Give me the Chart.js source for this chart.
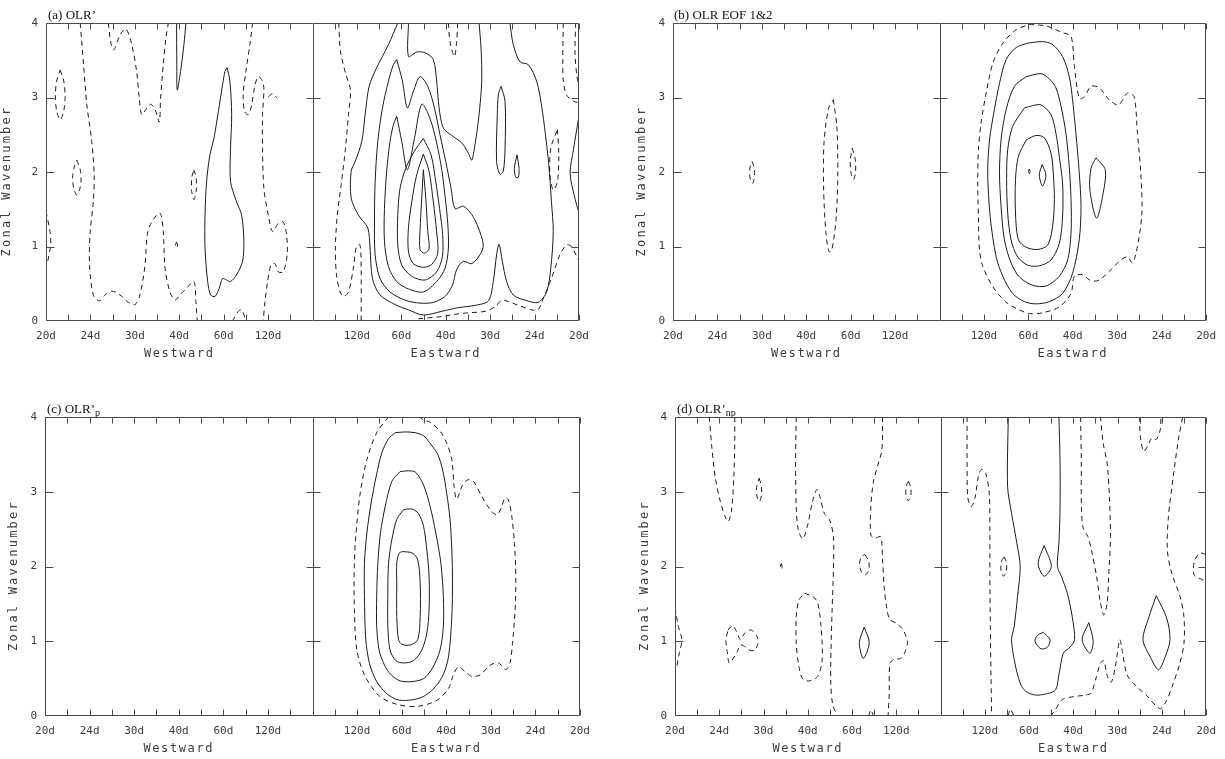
<!DOCTYPE html>
<html>
<head>
<meta charset="utf-8">
<script src="https://cdn.jsdelivr.net/npm/chart.js@4.4.1/dist/chart.umd.min.js"></script>
<style>
  body { margin: 0; background: #fff; }
  #page { position: relative; width: 1225px; height: 759px; overflow: hidden; background: #fff; }
  .panel { position: absolute; }
  .ttl { position: absolute; font-family: "Liberation Serif", "Times New Roman", serif; font-size: 13px; line-height: 13px; color: #111; white-space: nowrap; }
  .ttl sub { font-size: 10px; vertical-align: -3px; line-height: 0; }
</style>
</head>
<body>
<div id="page">
  <div class="panel" style="left:0px;top:0px"><canvas id="ca" width="612" height="380"></canvas></div>
  <div class="panel" style="left:612px;top:0px"><canvas id="cb" width="613" height="380"></canvas></div>
  <div class="panel" style="left:0px;top:380px"><canvas id="cc" width="612" height="379"></canvas></div>
  <div class="panel" style="left:612px;top:380px"><canvas id="cd" width="613" height="379"></canvas></div>
  <div class="ttl" style="left:48px;top:8px">(a) OLR’</div>
  <div class="ttl" style="left:674px;top:8px">(b) OLR EOF 1&amp;2</div>
  <div class="ttl" style="left:47px;top:402px">(c) OLR’<sub>p</sub></div>
  <div class="ttl" style="left:677px;top:402px">(d) OLR’<sub>np</sub></div>
</div>
<script>
'use strict'

// x = frequency in units of 1/240 cycles per day (negative = westward), y = zonal wavenumber
const freqTicks = [-12, -10, -8, -6, -4, -2, 0, 2, 4, 6, 8, 10, 12]
const periodLabels = ['20d', '24d', '30d', '40d', '60d', '120d', '', '120d', '60d', '40d', '30d', '24d', '20d']
const waveTicks = [0, 1, 2, 3, 4]

// ---- (a) OLR' : contours as u,k pairs ----
const aDash1 = [-11.36,3.37, -11.2,3.22, -11.14,3.02, -11.2,2.82, -11.36,2.70, -11.52,2.82, -11.58,3.02, -11.52,3.22]
const aDash2 = [-10.61,2.16, -10.46,2.03, -10.42,1.92, -10.47,1.78, -10.61,1.69, -10.75,1.78, -10.8,1.92, -10.75,2.05]
const aDash3 = [-12,1.47, -11.82,1.2, -11.79,1.02, -11.94,0.77]
const aDash4 = [-10.46,4.0, -10.31,3.44, -10.16,2.90, -9.94,2.41, -9.83,1.96, -9.87,1.60, -10.01,1.20, -10.04,0.75, -9.87,0.35, -9.60,0.27, -9.34,0.35, -9.04,0.40, -8.67,0.35, -8.29,0.25, -7.99,0.22, -7.77,0.35, -7.54,0.75, -7.44,1.16, -7.24,1.33, -6.87,1.45, -6.72,1.20, -6.64,0.71, -6.42,0.39, -6.19,0.28, -5.97,0.35, -5.67,0.44, -5.34,0.53, -5.25,0.26, -5.19,0.0]
const aDash5 = [-9.19,4.0, -9.09,3.75, -8.94,3.64, -8.67,3.84, -8.40,3.92, -8.14,3.71, -7.92,3.35, -7.80,2.99, -7.69,2.77, -7.50,2.84, -7.29,2.91, -7.09,2.84, -6.90,2.67, -6.84,2.99, -6.72,3.44, -6.60,3.80, -6.49,4.0]
const aSol1 = [-6.12,4.0, -6.11,3.44, -6.09,3.10, -5.94,3.35, -5.79,3.71, -5.70,4.0]
const aDash6 = [-6.12,1.06, -6.07,1.02, -6.12,0.98, -6.17,1.02]
const aDash7 = [-5.34,2.03, -5.24,1.92, -5.24,1.74, -5.34,1.63, -5.44,1.74, -5.44,1.92]
const aSol2 = [-3.84,3.40, -3.72,3.22, -3.64,2.77, -3.69,2.32, -3.69,1.87, -3.42,1.60, -3.19,1.42, -3.09,1.07, -3.15,0.80, -3.42,0.62, -3.69,0.53, -3.87,0.55, -4.05,0.57, -4.20,0.44, -4.39,0.33, -4.59,0.35, -4.72,0.53, -4.84,0.98, -4.84,1.42, -4.77,1.87, -4.62,2.23, -4.44,2.45, -4.24,2.81, -4.05,3.17, -3.94,3.35]
const aDash8 = [-2.70,4.0, -2.82,3.71, -3.0,3.35, -3.12,3.04, -3.06,2.81, -2.89,2.77, -2.74,2.90, -2.59,3.17, -2.44,3.28, -2.29,3.24, -2.19,3.13, -2.25,2.77, -2.25,2.32, -2.19,1.78, -1.99,1.42, -1.80,1.20, -1.54,1.31, -1.32,1.33, -1.17,1.16, -1.14,0.89, -1.32,0.66, -1.54,0.66, -1.69,0.77, -1.87,0.75, -2.02,0.53, -2.14,0.26, -2.22,0.0]
const aDash9 = [-1.99,3.01, -1.80,3.05, -1.59,2.99]
const aDash10 = [-3.6,0.0, -3.34,0.13, -3.19,0.15, -3.04,0.04]
const aDash11 = [1.18,4.0, 1.26,3.62, 1.50,3.31, 1.71,3.10, 1.62,2.77, 1.48,2.30, 1.29,1.83, 1.11,1.40, 1.03,0.98, 1.08,0.62, 1.24,0.39, 1.41,0.33, 1.62,0.39, 1.84,0.71, 1.98,1.0, 2.14,1.02, 2.19,0.71, 2.19,0.0]
const aSol3 = [3.84,4.00, 3.42,3.71, 2.89,3.40, 2.55,3.15, 2.37,2.77, 2.22,2.41, 1.92,2.14, 1.74,2.01, 1.74,1.65, 2.07,1.42, 2.49,1.25, 2.59,0.98, 2.70,0.57, 3.04,0.35, 3.72,0.22, 4.32,0.15, 4.99,0.08, 5.82,0.13, 6.57,0.18, 7.32,0.21, 7.92,0.27, 8.14,0.53, 8.29,0.89, 8.40,1.03, 8.55,0.80, 8.74,0.53, 9.04,0.35, 9.57,0.28, 10.16,0.25, 10.54,0.39, 10.73,0.71, 10.84,1.20, 10.76,1.60, 10.64,2.10, 10.49,2.50, 10.31,2.90, 10.09,3.22, 9.72,3.44, 9.34,3.48, 9.04,3.71, 8.89,4.00]
const aSol4 = [4.32,4.0, 4.32,3.55, 4.69,3.61, 5.07,3.60, 5.44,3.51, 5.59,3.22, 5.70,2.86, 5.89,2.59, 6.27,2.49, 6.72,2.39, 7.02,2.25, 7.17,2.16, 7.32,2.37, 7.50,2.77, 7.62,3.22, 7.59,3.66, 7.50,4.0]
const aSol5 = [3.79,3.51, 4.05,3.22, 4.27,2.86, 4.54,3.08, 4.84,3.28, 5.19,3.15, 5.49,2.86, 5.74,2.50, 6.0,2.14, 6.24,1.78, 6.42,1.51, 6.79,1.54, 7.17,1.43, 7.47,1.25, 7.69,1.02, 7.54,0.89, 7.17,0.77, 6.79,0.80, 6.49,0.69, 6.30,0.48, 5.97,0.33, 5.44,0.25, 4.84,0.24, 4.17,0.28, 3.49,0.39, 3.04,0.57, 2.82,0.89, 2.79,1.33, 2.82,1.87, 2.94,2.41, 3.15,2.86, 3.42,3.22, 3.64,3.44]
const aSol6 = [3.79,2.75, 4.02,2.41, 4.27,2.03, 4.59,2.45, 4.92,2.91, 5.29,2.72, 5.59,2.39, 5.82,2.03, 5.97,1.67, 6.09,1.31, 6.12,0.98, 5.97,0.71, 5.59,0.53, 4.99,0.39, 4.32,0.43, 3.79,0.53, 3.42,0.73, 3.24,1.07, 3.24,1.51, 3.34,2.01, 3.49,2.41, 3.64,2.63]
const aSol7 = [4.99,2.45, 5.34,2.23, 5.55,1.87, 5.72,1.51, 5.86,1.16, 5.85,0.86, 5.59,0.66, 5.07,0.55, 4.47,0.60, 4.02,0.75, 3.84,1.02, 3.84,1.42, 3.94,1.78, 4.20,2.05, 4.59,2.28]
const aSol8 = [4.99,2.24, 5.25,2.01, 5.44,1.60, 5.59,1.20, 5.64,0.91, 5.37,0.76, 4.99,0.72, 4.54,0.77, 4.32,0.93, 4.32,1.25, 4.47,1.60, 4.69,1.96]
const aSol9 = [4.99,2.03, 5.10,1.65, 5.19,1.20, 5.25,0.97, 5.04,0.91, 4.84,0.96, 4.84,1.20, 4.92,1.65]
const aSol10 = [8.49,3.15, 8.67,2.95, 8.67,2.32, 8.59,2.01, 8.44,1.97, 8.29,2.14, 8.32,2.77, 8.37,3.04]
const aSol11 = [9.21,2.23, 9.30,2.05, 9.27,1.93, 9.15,1.93, 9.09,2.05]
const aSol12 = [12.0,2.75, 11.75,2.30, 11.60,1.98, 11.83,1.63, 12.0,1.45]
const aDash12 = [6.12,4.0, 6.19,3.75, 6.39,3.55, 6.49,3.75, 6.54,4.0]
const aDash13 = [11.29,4.0, 11.27,3.5, 11.3,3.2, 11.45,3.03, 11.75,2.95, 12.0,2.93]
const aDash14 = [11.85,4.0, 11.82,3.6, 11.9,3.3, 12.0,3.15]
const aDash15 = [11.03,2.57, 11.09,2.23, 11.03,1.87, 10.84,1.76, 10.69,1.96, 10.73,2.32]
const aDash16 = [4.77,0.03, 5.82,0.06, 6.42,0.09, 7.02,0.11, 7.77,0.13, 8.22,0.19, 8.52,0.28, 8.82,0.26, 9.27,0.21, 9.87,0.15, 10.16,0.15, 10.39,0.30, 10.76,0.57, 11.14,0.89, 11.44,1.02, 11.66,1.0, 12.0,0.80]

// ---- (b) OLR EOF 1&2 ----
const bDash1 = [-8.44,2.14, -8.34,2.06, -8.33,1.96, -8.40,1.85, -8.50,1.88, -8.55,1.98, -8.52,2.08]
const bDash2 = [-4.78,2.97, -4.62,2.6, -4.58,2.0, -4.65,1.4, -4.85,0.95, -4.98,0.93, -5.12,1.2, -5.22,1.8, -5.2,2.4, -5.0,2.85]
const bDash3 = [-3.93,2.32, -3.8,2.18, -3.78,2.0, -3.87,1.90, -3.98,1.98, -4.02,2.15]
const bDash4 = [4.04,3.98, 4.80,3.96, 5.54,3.87, 5.92,3.82, 6.07,3.42, 6.29,2.99, 6.52,3.01, 6.82,3.15, 7.19,3.13, 7.64,2.97, 8.06,2.90, 8.46,3.06, 8.76,3.01, 8.91,2.52, 9.06,1.99, 9.11,1.45, 8.91,1.0, 8.69,0.78, 8.46,0.86, 8.16,0.82, 7.79,0.71, 7.19,0.55, 6.82,0.54, 6.44,0.62, 6.07,0.60, 5.92,0.37, 5.39,0.19, 4.64,0.11, 4.04,0.10, 3.45,0.17, 2.97,0.26, 2.40,0.46, 1.95,0.73, 1.80,0.95, 1.75,1.40, 1.72,1.85, 1.75,2.30, 1.87,2.66, 2.10,3.06, 2.40,3.46, 2.85,3.73, 3.45,3.91]
const bSol1 = [3.97,3.73, 4.64,3.75, 5.09,3.71, 5.54,3.55, 5.84,3.28, 5.99,2.97, 6.14,2.52, 6.29,1.99, 6.37,1.54, 6.29,1.09, 5.99,0.64, 5.54,0.37, 4.94,0.26, 4.34,0.23, 3.82,0.26, 3.29,0.37, 2.85,0.60, 2.55,0.86, 2.28,1.40, 2.17,1.99, 2.25,2.43, 2.47,2.84, 2.70,3.19, 3.00,3.51, 3.45,3.67]
const bSol2 = [3.90,3.28, 4.57,3.32, 4.94,3.25, 5.24,3.13, 5.47,2.88, 5.69,2.52, 5.84,2.07, 5.92,1.63, 5.92,1.18, 5.77,0.82, 5.39,0.60, 4.80,0.47, 4.19,0.48, 3.60,0.59, 3.22,0.78, 2.92,1.09, 2.77,1.54, 2.70,1.99, 2.77,2.43, 3.00,2.84, 3.37,3.15]
const bSol3 = [3.82,2.86, 4.19,2.89, 4.57,2.90, 5.02,2.77, 5.24,2.52, 5.39,2.21, 5.54,1.85, 5.54,1.40, 5.39,1.04, 5.02,0.82, 4.49,0.74, 3.97,0.75, 3.52,0.86, 3.22,1.09, 3.07,1.45, 3.02,1.90, 3.07,2.30, 3.29,2.61]
const bSol4 = [3.90,2.43, 4.34,2.49, 4.72,2.46, 5.02,2.25, 5.12,1.99, 5.17,1.63, 5.09,1.27, 4.87,1.02, 4.42,0.96, 3.90,0.99, 3.55,1.09, 3.42,1.45, 3.42,1.90, 3.55,2.21]
const bSol5 = [4.62,2.10, 4.79,1.96, 4.64,1.81, 4.49,1.96]
const bSol6 = [4.04,2.04, 4.08,2.01, 4.04,1.98, 4.0,2.01]
const bSol7 = [7.04,2.19, 7.46,2.03, 7.37,1.72, 7.07,1.38, 6.77,1.76, 6.82,2.05]

// ---- (c) OLR'p ----
const cDash1 = [3.41,4.0, 2.88,3.79, 2.44,3.43, 2.14,2.98, 1.94,2.40, 1.87,1.96, 1.88,1.42, 1.99,0.88, 2.36,0.53, 3.03,0.26, 3.86,0.15, 4.75,0.13, 5.58,0.21, 6.10,0.37, 6.32,0.55, 6.55,0.66, 6.85,0.59, 7.14,0.53, 7.52,0.55, 7.97,0.68, 8.34,0.71, 8.67,0.62, 8.86,0.71, 8.97,0.97, 9.09,1.42, 9.12,1.87, 9.06,2.31, 8.94,2.67, 8.79,2.89, 8.64,2.92, 8.46,2.78, 8.27,2.69, 7.97,2.76, 7.59,2.94, 7.22,3.14, 6.97,3.16, 6.73,3.09, 6.47,2.90, 6.35,3.07, 6.25,3.43, 6.02,3.65, 5.72,3.81, 5.28,3.93, 4.98,3.96, 4.8,4.0]
const cSol1 = [3.71,3.79, 4.16,3.80, 4.60,3.79, 4.98,3.75, 5.32,3.63, 5.62,3.50, 5.84,3.29, 6.02,2.98, 6.17,2.63, 6.25,2.22, 6.28,1.78, 6.25,1.33, 6.10,0.79, 5.83,0.53, 5.38,0.35, 4.90,0.25, 4.30,0.21, 3.78,0.22, 3.29,0.31, 2.86,0.47, 2.56,0.70, 2.39,1.02, 2.33,1.60, 2.33,2.04, 2.44,2.45, 2.63,2.85, 2.86,3.21, 3.11,3.52, 3.41,3.71]
const cSol2 = [3.93,3.27, 4.30,3.28, 4.63,3.26, 4.98,3.09, 5.28,2.80, 5.53,2.45, 5.76,2.04, 5.87,1.60, 5.87,1.20, 5.72,0.88, 5.38,0.64, 4.98,0.50, 4.45,0.46, 3.93,0.47, 3.53,0.55, 3.23,0.68, 2.99,0.88, 2.88,1.20, 2.88,1.60, 2.93,2.04, 3.05,2.45, 3.26,2.80, 3.56,3.14]
const cSol3 = [4.08,2.76, 4.45,2.77, 4.75,2.71, 4.98,2.54, 5.13,2.22, 5.23,1.87, 5.23,1.42, 5.13,1.11, 4.90,0.88, 4.53,0.74, 4.08,0.71, 3.74,0.74, 3.48,0.88, 3.38,1.20, 3.38,1.64, 3.41,2.04, 3.56,2.36, 3.78,2.63]
const cSol4 = [4.04,2.20, 4.48,2.18, 4.72,2.09, 4.83,1.78, 4.83,1.33, 4.72,1.02, 4.38,0.95, 4.01,0.96, 3.86,1.02, 3.78,1.33, 3.78,1.78, 3.78,2.05, 3.89,2.18]

// ---- (d) OLR'np ----
const dDash1 = [-10.45,4.0, -10.34,3.61, -10.19,3.21, -9.97,2.89, -9.75,2.68, -9.60,2.60, -9.45,2.74, -9.34,3.21, -9.30,3.65, -9.30,4.0]
const dDash2 = [-8.20,3.18, -8.10,3.08, -8.09,2.96, -8.18,2.87, -8.29,2.93, -8.31,3.06]
const dDash3 = [-12,1.45, -11.85,1.2, -11.69,1.02, -11.8,0.85, -11.92,0.66]
const dDash4 = [-9.60,1.15, -9.40,1.21, -9.22,1.13, -9.04,1.02, -8.85,1.11, -8.55,1.15, -8.29,1.06, -8.25,0.97, -8.40,0.88, -8.62,0.88, -8.85,0.93, -9.04,0.95, -9.19,0.86, -9.37,0.77, -9.55,0.71, -9.64,0.86, -9.70,1.02]
const dDash5 = [-7.20,2.04, -7.16,2.0, -7.20,1.96, -7.24,2.0]
const dDash6 = [-6.52,4.0, -6.55,3.43, -6.52,2.80, -6.43,2.49, -6.22,2.37, -6.00,2.56, -5.80,2.85, -5.59,3.03, -5.44,2.92, -5.25,2.71, -5.02,2.63, -4.84,2.40, -4.84,1.96, -4.90,1.42, -4.95,0.88, -4.96,0.44, -4.87,0.15, -4.65,0.0]
const dDash7 = [-6.15,1.64, -5.77,1.60, -5.55,1.51, -5.40,1.20, -5.35,0.75, -5.55,0.53, -5.92,0.47, -6.22,0.49, -6.40,0.66, -6.52,0.97, -6.52,1.33, -6.40,1.55]
const dDash8 = [-2.62,4.0, -2.65,3.56, -2.85,3.34, -3.04,3.12, -3.15,2.80, -3.15,2.42, -2.95,2.38, -2.70,2.40, -2.62,2.09, -2.55,1.73, -2.44,1.46, -2.29,1.29, -1.99,1.24, -1.69,1.15, -1.50,1.00, -1.57,0.88, -1.80,0.77, -2.10,0.76, -2.29,0.70, -2.32,0.30, -2.37,0.0]
const dDash9 = [-3.42,2.16, -3.26,2.08, -3.23,1.97, -3.38,1.89, -3.56,1.92, -3.66,2.03, -3.58,2.13]
const dSol1 = [-3.45,1.19, -3.22,0.98, -3.49,0.77, -3.67,0.98]
const dDash10 = [-1.45,3.14, -1.34,3.05, -1.35,2.94, -1.46,2.88, -1.56,2.96, -1.56,3.07]
const dDash11 = [-3.25,0.0, -3.15,0.08, -3.04,0.0]
const dDash12 = [1.20,4.0, 1.20,3.43, 1.23,2.93, 1.38,2.80, 1.56,2.92, 1.71,3.21, 1.86,3.30, 2.05,3.24, 2.20,2.98, 2.23,2.54, 2.23,1.87, 2.25,1.20, 2.28,0.53, 2.31,0.0]
const dDash13 = [2.87,2.13, 2.98,2.05, 2.97,1.93, 2.85,1.87, 2.74,1.93, 2.74,2.06]
const dDash14 = [3.06,0.0, 3.15,0.09, 3.30,0.01]
const dSol2 = [3.06,4.0, 3.03,3.07, 3.21,2.71, 3.45,2.31, 3.60,2.0, 3.48,1.60, 3.33,1.20, 3.21,1.02, 3.36,0.71, 3.60,0.44, 3.85,0.33, 4.30,0.28, 4.83,0.30, 5.20,0.35, 5.35,0.55, 5.55,0.84, 5.85,0.92, 6.06,1.02, 5.95,1.33, 5.73,1.64, 5.46,1.87, 5.28,2.0, 5.35,2.31, 5.40,2.76, 5.40,3.43, 5.35,4.0]
const dSol3 = [4.68,2.28, 5.01,2.0, 4.68,1.87, 4.41,2.04]
const dSol4 = [4.65,1.12, 4.95,1.02, 4.83,0.92, 4.53,0.90, 4.27,1.0, 4.38,1.08]
const dSol5 = [6.70,1.25, 6.90,1.0, 6.75,0.84, 6.40,1.02]
const dSol6 = [9.75,1.61, 10.22,1.31, 10.37,1.02, 10.15,0.79, 9.85,0.62, 9.48,0.79, 9.15,1.02, 9.40,1.31]
const dDash15 = [6.33,4.0, 6.36,3.43, 6.37,2.76, 6.45,2.51, 6.66,2.40, 6.82,2.22, 7.05,1.87, 7.23,1.51, 7.38,1.35, 7.53,1.51, 7.60,1.87, 7.68,2.40, 7.63,2.94, 7.53,3.38, 7.35,3.65, 7.23,4.0]
const dDash16 = [4.98,0.0, 5.20,0.09, 5.50,0.22, 6.03,0.26, 6.55,0.28, 6.81,0.31, 7.05,0.53, 7.23,0.71, 7.38,0.74, 7.53,0.54, 7.71,0.45, 7.90,0.66, 8.10,1.02, 8.22,0.86, 8.43,0.55, 8.88,0.39, 9.33,0.27, 9.75,0.13, 9.96,0.10, 10.22,0.21, 10.52,0.44, 10.79,0.68, 11.0,0.97, 11.0,1.33, 10.82,1.60, 10.45,1.91, 10.25,2.22, 10.30,2.67, 10.52,3.21, 10.75,3.70, 10.94,4.0]
const dDash17 = [9.0,4.0, 9.03,3.74, 9.18,3.54, 9.36,3.61, 9.55,3.72, 9.75,3.70, 9.93,3.83, 9.96,4.0]
const dDash18 = [12.0,2.16, 11.72,2.18, 11.50,2.09, 11.42,1.96, 11.50,1.87, 11.80,1.83, 12.0,1.79]

// [points, dashed, closed]
const panelA = [
  [aDash1, 1, 1], [aDash2, 1, 1], [aDash3, 1, 0], [aDash4, 1, 0], [aDash5, 1, 0], [aSol1, 0, 0],
  [aDash6, 1, 1], [aDash7, 1, 1], [aSol2, 0, 1], [aDash8, 1, 0], [aDash9, 1, 0], [aDash10, 1, 0],
  [aDash11, 1, 0], [aSol3, 0, 0], [aSol4, 0, 0], [aSol5, 0, 1], [aSol6, 0, 1], [aSol7, 0, 1],
  [aSol8, 0, 1], [aSol9, 0, 1], [aSol10, 0, 1], [aSol11, 0, 1], [aSol12, 0, 0], [aDash12, 1, 0],
  [aDash13, 1, 0], [aDash14, 1, 0], [aDash15, 1, 1], [aDash16, 1, 0]
]
const panelB = [
  [bDash1, 1, 1], [bDash2, 1, 1], [bDash3, 1, 1], [bDash4, 1, 1], [bSol1, 0, 1], [bSol2, 0, 1],
  [bSol3, 0, 1], [bSol4, 0, 1], [bSol5, 0, 1], [bSol6, 0, 1], [bSol7, 0, 1]
]
const panelC = [
  [cDash1, 1, 0], [cSol1, 0, 1], [cSol2, 0, 1], [cSol3, 0, 1], [cSol4, 0, 1]
]
const panelD = [
  [dDash1, 1, 0], [dDash2, 1, 1], [dDash3, 1, 0], [dDash4, 1, 1], [dDash5, 1, 1], [dDash6, 1, 0],
  [dDash7, 1, 1], [dDash8, 1, 0], [dDash9, 1, 1], [dSol1, 0, 1], [dDash10, 1, 1], [dDash11, 1, 0],
  [dDash12, 1, 0], [dDash13, 1, 1], [dDash14, 1, 0], [dSol2, 0, 0], [dSol3, 0, 1], [dSol4, 0, 1],
  [dSol5, 0, 1], [dSol6, 0, 1], [dDash15, 1, 0], [dDash16, 1, 0], [dDash17, 1, 0], [dDash18, 1, 0]
]

const lineColor = '#1c1c1c'
const frameColor = '#4a4a4a'
const textColor = '#3c3c3c'
const monoFont = '"DejaVu Sans Mono", "Liberation Mono", monospace'

const toDataset = function (entry) {
  const flat = entry[0]
  const pts = []
  for (let i = 0; i < flat.length; i += 2) pts.push({x: flat[i], y: flat[i + 1]})
  if (entry[2]) pts.push(pts[0])
  return {
    data: pts,
    showLine: true,
    borderColor: lineColor,
    borderWidth: 1,
    borderDash: entry[1] ? [5, 4] : [],
    pointRadius: 0,
    tension: 0.3,
    fill: false
  }
}

// frame, inward ticks, centre line and the axis captions
const framePlugin = {
  id: 'frame',
  afterDraw(chart, args, opts) {
    const {ctx, chartArea: a, scales: {x, y}} = chart
    const L = Math.round(a.left) + 0.5, R = Math.round(a.right) - 0.5
    const T = Math.round(a.top) + 0.5, B = Math.round(a.bottom) - 0.5
    const mid = Math.round(x.getPixelForValue(0)) + 0.5
    ctx.save()
    ctx.strokeStyle = frameColor
    ctx.lineWidth = 1
    ctx.beginPath()
    ctx.rect(L, T, R - L, B - T)
    ctx.moveTo(mid, T); ctx.lineTo(mid, B)
    x.ticks.forEach(t => {
      const px = Math.round(x.getPixelForValue(t.value)) + 0.5
      ctx.moveTo(px, B); ctx.lineTo(px, B - 6)
      ctx.moveTo(px, T); ctx.lineTo(px, T + 6)
    })
    y.ticks.forEach(t => {
      if (t.value <= 0 || t.value >= 4) return
      const py = Math.round(y.getPixelForValue(t.value)) + 0.5
      ctx.moveTo(L, py); ctx.lineTo(L + 8, py)
      ctx.moveTo(mid - 7, py); ctx.lineTo(mid + 7, py)
      ctx.moveTo(R, py); ctx.lineTo(R - 7, py)
    })
    ctx.stroke()

    ctx.fillStyle = textColor
    ctx.font = '12px ' + monoFont
    ctx.letterSpacing = '1.6px'
    ctx.textAlign = 'center'
    ctx.textBaseline = 'alphabetic'
    ctx.fillText('Westward', x.getPixelForValue(-6), B + 36)
    ctx.fillText('Eastward', x.getPixelForValue(6), B + 36)
    ctx.translate(L - opts.yOff, (T + B) / 2 + 9)
    ctx.rotate(-Math.PI / 2)
    ctx.letterSpacing = '2.2px'
    ctx.textBaseline = 'middle'
    ctx.fillText('Zonal Wavenumber', 0, 0)
    ctx.restore()
  }
}

const makePanel = function (id, lines, yW, padT, padR, xH, yOff) {
  new Chart(document.getElementById(id), {
    type: 'scatter',
    data: {datasets: lines.map(toDataset)},
    options: {
      responsive: false,
      animation: false,
      layout: {padding: {top: padT, right: padR, left: 0, bottom: 0}},
      plugins: {legend: {display: false}, tooltip: {enabled: false}, frame: {yOff: yOff}},
      scales: {
        x: {
          type: 'linear', min: -12, max: 12,
          grid: {display: false, drawTicks: false},
          border: {display: false},
          afterBuildTicks: s => { s.ticks = []; for (let v = -12; v <= 12; v++) s.ticks.push({value: v}) },
          afterFit: s => { s.height = xH },
          ticks: {
            autoSkip: false, maxRotation: 0, padding: 9, color: textColor,
            font: {family: monoFont, size: 11},
            callback: v => { const i = freqTicks.indexOf(v); return i < 0 ? '' : periodLabels[i] }
          }
        },
        y: {
          type: 'linear', min: 0, max: 4,
          grid: {display: false, drawTicks: false},
          border: {display: false},
          afterBuildTicks: s => { s.ticks = waveTicks.map(v => ({value: v})) },
          afterFit: s => { s.width = yW },
          ticks: {padding: 8, color: textColor, font: {family: monoFont, size: 11}}
        }
      }
    },
    plugins: [framePlugin]
  })
}

makePanel('ca', panelA, 46, 23, 33, 59, 40)
makePanel('cb', panelB, 61, 23, 18, 59, 32)
makePanel('cc', panelC, 45, 37, 32, 43, 32)
makePanel('cd', panelD, 63, 37, 18, 43, 31)
</script>
</body>
</html>
